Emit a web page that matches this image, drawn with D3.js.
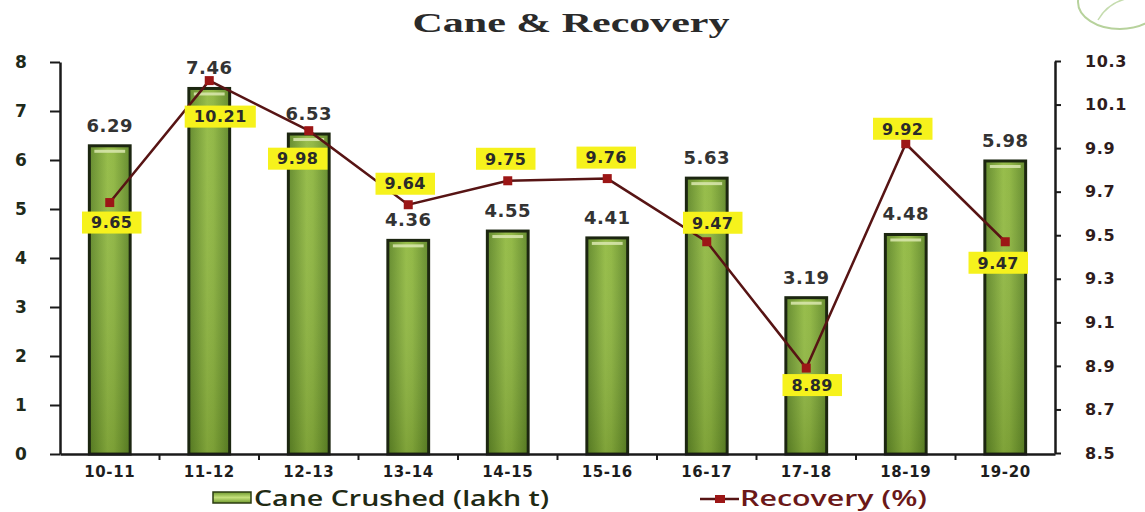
<!DOCTYPE html>
<html><head><meta charset="utf-8">
<script src="https://cdn.jsdelivr.net/npm/d3@7"></script>
<style>html,body{margin:0;padding:0;background:#fff;}svg{display:block;}</style>
</head><body>
<svg id="chart" width="1145" height="512"></svg>
<script>
const categories = ["10-11","11-12","12-13","13-14","14-15","15-16","16-17","17-18","18-19","19-20"];
const caneCrushed = [6.29,7.46,6.53,4.36,4.55,4.41,5.63,3.19,4.48,5.98];
const recovery = [9.65,10.21,9.98,9.64,9.75,9.76,9.47,8.89,9.92,9.47];
const leftTicks = [0,1,2,3,4,5,6,7,8];
const rightTicks = [8.5,8.7,8.9,9.1,9.3,9.5,9.7,9.9,10.1,10.3];
const titleText = "Cane & Recovery";
const seriesNames = ["Cane Crushed (lakh t)","Recovery (%)"];
// label placement relative to each recovery point (layout only)
const recLabelOffsets = [[2,20],[11,36],[-11,28],[-3,-21],[-2,-22],[-1,-21],[6,-19],[6,17],[-3,-15],[-7,21]];

const svg = d3.select("#chart");
const defs = svg.append("defs");
const g1 = defs.append("linearGradient").attr("id","barGrad").attr("x1","0").attr("x2","1").attr("y1","0").attr("y2","0");
g1.append("stop").attr("offset","0%").attr("stop-color","#5e8626");
g1.append("stop").attr("offset","45%").attr("stop-color","#92ba42");
g1.append("stop").attr("offset","60%").attr("stop-color","#8db53e");
g1.append("stop").attr("offset","100%").attr("stop-color","#5e8626");
const g2 = defs.append("linearGradient").attr("id","barShade").attr("x1","0").attr("x2","0").attr("y1","0").attr("y2","1");
g2.append("stop").attr("offset","0%").attr("stop-color","#ffffff").attr("stop-opacity",0.05);
g2.append("stop").attr("offset","100%").attr("stop-color","#2a3a10").attr("stop-opacity",0.18);
const g3 = defs.append("linearGradient").attr("id","legGrad").attr("x1","0").attr("x2","0").attr("y1","0").attr("y2","1");
g3.append("stop").attr("offset","0%").attr("stop-color","#6f9a2e");
g3.append("stop").attr("offset","50%").attr("stop-color","#c4e07a");
g3.append("stop").attr("offset","100%").attr("stop-color","#6f9a2e");

const x = d3.scaleBand().domain(categories).range([60,1055]).paddingInner(0.59).paddingOuter(0.295);
const yL = d3.scaleLinear().domain([0,8]).range([454,62]);
const yR = d3.scaleLinear().domain([8.5,10.3]).range([453,61]);
const bw = x.bandwidth();
const cx = c => x(c) + bw/2;

// logo arc top-right
svg.append("ellipse").attr("cx",1120).attr("cy",2).attr("rx",42).attr("ry",27)
  .attr("fill","none").attr("stroke","#b7d29c").attr("stroke-width",2);
svg.append("path").attr("d","M1098,20 C1106,6 1118,0 1130,-2").attr("fill","none").attr("stroke","#c5dcae").attr("stroke-width",1.5);

// title
svg.append("text").attr("x",571).attr("y",32).attr("text-anchor","middle")
  .attr("font-family","Liberation Serif").attr("font-weight","bold").attr("font-size",27).attr("fill","#2a2a2a")
  .attr("textLength",317).attr("lengthAdjust","spacingAndGlyphs").text(titleText);

// bars
const bars = svg.append("g");
bars.selectAll("rect.bar").data(categories).join("rect").attr("class","bar")
  .attr("x",c=>x(c)).attr("width",bw)
  .attr("y",(c,i)=>yL(caneCrushed[i])).attr("height",(c,i)=>yL(0)-yL(caneCrushed[i]))
  .attr("fill","url(#barGrad)").attr("stroke","#1c2610").attr("stroke-width",3);
bars.selectAll("rect.shade").data(categories).join("rect").attr("class","shade")
  .attr("x",c=>x(c)+1.5).attr("width",bw-3)
  .attr("y",(c,i)=>yL(caneCrushed[i])+1.5).attr("height",(c,i)=>yL(0)-yL(caneCrushed[i])-3)
  .attr("fill","url(#barShade)");
bars.selectAll("rect.hl").data(categories).join("rect").attr("class","hl")
  .attr("x",c=>x(c)+5).attr("width",bw-10)
  .attr("y",(c,i)=>yL(caneCrushed[i])+4).attr("height",3)
  .attr("fill","#dbe8b0").attr("opacity",0.85);

// axes
const axisColor = "#1a1a1a";
const left = svg.append("g").attr("transform","translate(60,0)")
  .call(d3.axisLeft(yL).tickValues(leftTicks).tickSize(10).tickSizeOuter(0).tickFormat(d3.format("d")));
left.select(".domain").attr("stroke",axisColor).attr("stroke-width",2.5);
left.selectAll(".tick line").attr("stroke",axisColor).attr("stroke-width",2);
left.selectAll(".tick text").attr("x",-39).attr("text-anchor","middle")
  .attr("font-family","DejaVu Sans").attr("font-weight","bold").attr("font-size",17).attr("fill","#1e2a1a");

const right = svg.append("g").attr("transform","translate(1055,0)")
  .call(d3.axisRight(yR).tickValues(rightTicks).tickSize(6).tickSizeOuter(0).tickFormat(d3.format(".1f")));
right.select(".domain").attr("stroke",axisColor).attr("stroke-width",2.5);
right.selectAll(".tick line").attr("stroke",axisColor).attr("stroke-width",2);
right.selectAll(".tick text").attr("x",30).attr("text-anchor","start")
  .attr("font-family","DejaVu Sans").attr("font-weight","bold").attr("font-size",16)
  .attr("letter-spacing",0.6).attr("fill","#2e1c1c");

const bottom = svg.append("g").attr("transform","translate(0,454)")
  .call(d3.axisBottom(x).tickSize(0).tickSizeOuter(0));
bottom.select(".domain").attr("stroke",axisColor).attr("stroke-width",2.5);
bottom.selectAll(".tick text").attr("y",23).attr("dy",null)
  .attr("font-family","DejaVu Sans").attr("font-weight","bold").attr("font-size",15)
  .attr("letter-spacing",0.6).attr("fill","#1e1e1e");
// boundary ticks between categories
svg.append("g").selectAll("line").data(categories.slice(1)).join("line")
  .attr("x1",c=>x(c)-x.step()*x.paddingInner()/2).attr("x2",c=>x(c)-x.step()*x.paddingInner()/2)
  .attr("y1",454).attr("y2",460).attr("stroke",axisColor).attr("stroke-width",2);

// bar value labels
svg.append("g").selectAll("text").data(categories).join("text")
  .attr("x",cx).attr("y",(c,i)=>yL(caneCrushed[i])-14).attr("text-anchor","middle")
  .attr("font-family","DejaVu Sans").attr("font-weight","bold").attr("font-size",18)
  .attr("letter-spacing",0.5).attr("fill","#333").text((c,i)=>caneCrushed[i].toFixed(2));

// recovery line
const line = d3.line().x((d,i)=>cx(categories[i])).y(d=>yR(d));
svg.append("path").datum(recovery).attr("d",line).attr("fill","none")
  .attr("stroke","#571414").attr("stroke-width",2.5);
svg.append("g").selectAll("rect").data(recovery).join("rect")
  .attr("x",(d,i)=>cx(categories[i])-4.5).attr("y",d=>yR(d)-4.5)
  .attr("width",9).attr("height",9).attr("fill","#9c1616");

// recovery labels
const lab = svg.append("g").selectAll("g").data(recovery).join("g")
  .attr("transform",(d,i)=>`translate(${cx(categories[i])+recLabelOffsets[i][0]},${yR(d)+recLabelOffsets[i][1]})`);
const labText = lab.append("text").attr("text-anchor","middle").attr("dy","0.36em")
  .attr("font-family","DejaVu Sans").attr("font-weight","bold").attr("font-size",16)
  .attr("letter-spacing",0.5).attr("fill","#2a2a2a").text(d=>d.toFixed(2));
labText.each(function(){
  const w = this.getComputedTextLength();
  d3.select(this.parentNode).insert("rect","text").attr("x",-w/2-9).attr("y",-11).attr("width",w+18).attr("height",22)
    .attr("fill","#f6f21c");
});

// legend
svg.append("rect").attr("x",213).attr("y",492).attr("width",38).attr("height",11)
  .attr("fill","url(#legGrad)").attr("stroke","#2c3c12").attr("stroke-width",1.5);
svg.append("text").attr("x",254).attr("y",506).attr("font-family","Open Sans").attr("font-weight",600)
  .attr("font-size",21).attr("fill","#1f2a14").attr("textLength",295).attr("lengthAdjust","spacingAndGlyphs")
  .text(seriesNames[0]);
svg.append("line").attr("x1",700).attr("x2",739).attr("y1",499).attr("y2",499).attr("stroke","#571414").attr("stroke-width",2.5);
svg.append("rect").attr("x",715).attr("y",495).attr("width",10).attr("height",8).attr("fill","#9c1616");
svg.append("text").attr("x",740).attr("y",506).attr("font-family","Open Sans").attr("font-weight",600)
  .attr("font-size",21).attr("fill","#6b1818").attr("textLength",187).attr("lengthAdjust","spacingAndGlyphs")
  .text(seriesNames[1]);
</script>
</body></html>
